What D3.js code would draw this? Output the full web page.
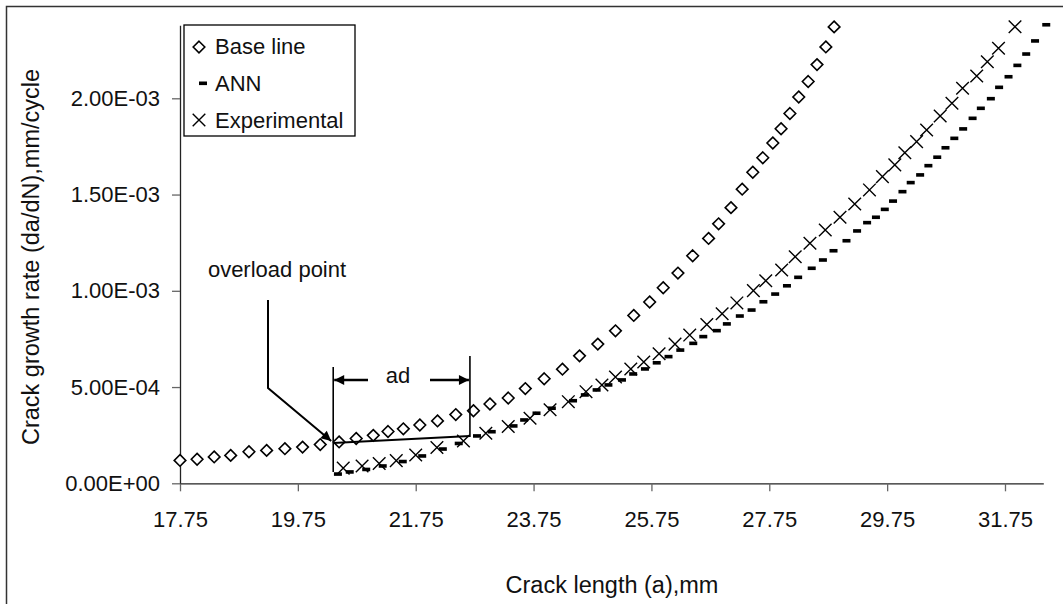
<!DOCTYPE html>
<html>
<head>
<meta charset="utf-8">
<script src="https://cdn.jsdelivr.net/npm/d3@7"></script>
<style>
  html, body { margin: 0; padding: 0; background: #fff; }
  svg { display: block; font-family: "Liberation Sans", Arial, sans-serif; }
</style>
</head>
<body>
<svg id="chart" width="1063" height="604"></svg>
<script>
// Crack length a (mm) and growth rate da/dN (mm/cycle) for each series
const baseA = [17.75, 18.04, 18.33, 18.61, 18.92, 19.22, 19.53, 19.83, 20.13,
  20.45, 20.74, 21.03, 21.28, 21.54, 21.82, 22.12, 22.43, 22.73, 23.01, 23.32,
  23.61, 23.93, 24.24, 24.53, 24.84, 25.14, 25.45, 25.72, 25.95, 26.20, 26.45,
  26.72, 26.89, 27.10, 27.29, 27.47, 27.64, 27.81, 27.95, 28.10, 28.25, 28.41,
  28.56, 28.71, 28.85];
const baseRate = [1.19e-4, 1.25e-4, 1.37e-4, 1.45e-4, 1.64e-4, 1.71e-4, 1.80e-4, 1.88e-4, 2.01e-4,
  2.15e-4, 2.33e-4, 2.49e-4, 2.69e-4, 2.83e-4, 3.03e-4, 3.24e-4, 3.57e-4, 3.77e-4, 4.12e-4, 4.43e-4,
  4.92e-4, 5.43e-4, 5.93e-4, 6.62e-4, 7.23e-4, 7.92e-4, 8.72e-4, 9.42e-4, 1.016e-3, 1.092e-3, 1.182e-3,
  1.272e-3, 1.348e-3, 1.432e-3, 1.528e-3, 1.616e-3, 1.691e-3, 1.768e-3, 1.842e-3, 1.921e-3, 2.007e-3, 2.087e-3,
  2.175e-3, 2.267e-3, 2.371e-3];

const annA = [20.43, 20.63, 20.91, 21.19, 21.53, 21.86, 22.21, 22.48, 22.79, 23.04,
  23.41, 23.59, 23.80, 24.06, 24.42, 24.62, 24.82, 25.02, 25.25, 25.44,
  25.64, 25.84, 26.04, 26.24, 26.46, 26.63, 26.86, 27.03, 27.25, 27.45,
  27.65, 27.85, 28.05, 28.24, 28.47, 28.66, 28.84, 29.06, 29.24, 29.41,
  29.56, 29.71, 29.85, 30.01, 30.15, 30.31, 30.45, 30.60, 30.74, 30.89,
  31.04, 31.20, 31.34, 31.51, 31.65, 31.81, 31.96, 32.11, 32.26, 32.45];
const annRate = [0.48e-4, 0.59e-4, 0.72e-4, 0.90e-4, 1.13e-4, 1.42e-4, 1.78e-4, 2.07e-4, 2.46e-4, 2.68e-4,
  2.98e-4, 3.29e-4, 3.64e-4, 3.90e-4, 4.29e-4, 4.59e-4, 4.85e-4, 5.11e-4, 5.37e-4, 5.68e-4,
  5.94e-4, 6.26e-4, 6.58e-4, 6.92e-4, 7.27e-4, 7.62e-4, 7.93e-4, 8.28e-4, 8.69e-4, 9.00e-4,
  9.43e-4, 9.83e-4, 1.026e-3, 1.070e-3, 1.117e-3, 1.160e-3, 1.208e-3, 1.260e-3, 1.311e-3, 1.354e-3,
  1.382e-3, 1.423e-3, 1.466e-3, 1.515e-3, 1.562e-3, 1.602e-3, 1.650e-3, 1.694e-3, 1.743e-3, 1.792e-3,
  1.841e-3, 1.896e-3, 1.948e-3, 1.998e-3, 2.057e-3, 2.112e-3, 2.171e-3, 2.230e-3, 2.298e-3, 2.382e-3];

const expA = [20.52, 20.84, 21.13, 21.42, 21.75, 22.11, 22.56, 22.94, 23.32, 23.69,
  24.03, 24.34, 24.64, 24.91, 25.14, 25.40, 25.62, 25.88, 26.15, 26.40,
  26.69, 26.95, 27.20, 27.48, 27.69, 27.96, 28.19, 28.44, 28.70, 28.95,
  29.20, 29.45, 29.67, 29.88, 30.05, 30.25, 30.42, 30.65, 30.85, 31.03,
  31.27, 31.45, 31.64, 31.92];
const expRate = [0.79e-4, 0.90e-4, 1.03e-4, 1.18e-4, 1.47e-4, 1.86e-4, 2.20e-4, 2.60e-4, 2.95e-4, 3.38e-4,
  3.82e-4, 4.24e-4, 4.76e-4, 5.11e-4, 5.52e-4, 5.94e-4, 6.30e-4, 6.73e-4, 7.23e-4, 7.70e-4,
  8.25e-4, 8.81e-4, 9.37e-4, 1.001e-3, 1.052e-3, 1.108e-3, 1.177e-3, 1.247e-3, 1.316e-3, 1.382e-3,
  1.451e-3, 1.524e-3, 1.593e-3, 1.654e-3, 1.717e-3, 1.775e-3, 1.835e-3, 1.908e-3, 1.974e-3, 2.052e-3,
  2.116e-3, 2.190e-3, 2.260e-3, 2.372e-3];

const xTicks = [17.75, 19.75, 21.75, 23.75, 25.75, 27.75, 29.75, 31.75];
const xTickLabels = ["17.75", "19.75", "21.75", "23.75", "25.75", "27.75", "29.75", "31.75"];
const yTicks = [0, 5e-4, 1e-3, 1.5e-3, 2e-3];
const yTickLabels = ["0.00E+00", "5.00E-04", "1.00E-03", "1.50E-03", "2.00E-03"];

const seriesNames = ["Base line", "ANN", "Experimental"];

// Annotation anchors in data units
const overloadA = 20.35;          // overload position (start of delay zone)
const delayEndA = 22.67;          // end of the delay distance ad

const svg = d3.select("#chart");
const FONT = 22;
const TITLE_FONT = 23.5;

const x = d3.scaleLinear().domain([17.75, 32.4]).range([180, 1043.3]);
const y = d3.scaleLinear().domain([0, 2.38e-3]).range([483.3, 25.15]);

// Outer chart frame
svg.append("rect")
  .attr("x", 6.5).attr("y", 6.5).attr("width", 1200).attr("height", 800)
  .attr("fill", "none").attr("stroke", "#333").attr("stroke-width", 1.5);

// Axes
const xAxis = d3.axisBottom(x).tickValues(xTicks)
  .tickFormat((d, i) => xTickLabels[i]).tickSize(8).tickSizeOuter(0).tickPadding(20);
const yAxis = d3.axisLeft(y).tickValues(yTicks)
  .tickFormat((d, i) => yTickLabels[i]).tickSize(8).tickSizeOuter(0).tickPadding(12);

const gx = svg.append("g").attr("transform", `translate(0,${y(0)})`).call(xAxis);
const gy = svg.append("g").attr("transform", `translate(${x(17.75)},0)`).call(yAxis);
[gx, gy].forEach(g => {
  g.select(".domain").attr("stroke", "#222").attr("stroke-width", 1.3);
  g.selectAll(".tick line").attr("stroke", "#666").attr("stroke-width", 1.3);
  g.selectAll(".tick text").attr("font-size", FONT).attr("fill", "#111")
    .attr("font-family", "Liberation Sans, Arial, sans-serif");
});

// Axis titles
svg.append("text")
  .attr("x", 612).attr("y", 593).attr("text-anchor", "middle")
  .attr("font-size", TITLE_FONT).attr("fill", "#111")
  .text("Crack length (a),mm");
svg.append("text")
  .attr("transform", "translate(39,257) rotate(-90)")
  .attr("text-anchor", "middle").attr("font-size", TITLE_FONT).attr("fill", "#111")
  .text("Crack growth rate (da/dN),mm/cycle");

// Marker shapes
const diamondPath = r => `M0,${-r}L${r},0L0,${r}L${-r},0Z`;
const crossPath = r => `M${-r},${-r}L${r},${r}M${-r},${r}L${r},${-r}`;

const plot = svg.append("g");

plot.selectAll("path.base").data(d3.zip(baseA, baseRate)).join("path")
  .attr("class", "base")
  .attr("transform", d => `translate(${x(d[0])},${y(d[1])})`)
  .attr("d", diamondPath(5.8)).attr("fill", "#fff")
  .attr("stroke", "#000").attr("stroke-width", 1.6);

plot.selectAll("rect.ann").data(d3.zip(annA, annRate)).join("rect")
  .attr("class", "ann")
  .attr("x", d => x(d[0]) - 4).attr("y", d => y(d[1]) - 1.8)
  .attr("width", 8).attr("height", 3.6).attr("fill", "#000");

plot.selectAll("path.exp").data(d3.zip(expA, expRate)).join("path")
  .attr("class", "exp")
  .attr("transform", d => `translate(${x(d[0])},${y(d[1])})`)
  .attr("d", crossPath(6.3)).attr("fill", "none")
  .attr("stroke", "#000").attr("stroke-width", 1.4);

// Arrowhead marker
const defs = svg.append("defs");
defs.append("marker").attr("id", "head")
  .attr("viewBox", "0 0 10 10").attr("refX", 10).attr("refY", 5)
  .attr("markerWidth", 12).attr("markerHeight", 10)
  .attr("markerUnits", "userSpaceOnUse").attr("orient", "auto")
  .append("path").attr("d", "M0,0L10,5L0,10Z").attr("fill", "#000");

const ann = svg.append("g").attr("stroke", "#000").attr("fill", "none");
const xo = x(overloadA), xe = x(delayEndA);
const yOver = y(baseRate[9]);

// Overload pointer
ann.append("path")
  .attr("d", `M268,300L268,388L${xo - 2},${yOver - 1}`)
  .attr("stroke-width", 2).attr("marker-end", "url(#head)");
svg.append("text").attr("x", 277).attr("y", 277).attr("text-anchor", "middle")
  .attr("font-size", FONT).attr("fill", "#111").text("overload point");

// Delay distance bounds
ann.append("line").attr("x1", xo).attr("x2", xo).attr("y1", 367).attr("y2", 472).attr("stroke-width", 1.6);
ann.append("line").attr("x1", xe).attr("x2", xe).attr("y1", 356).attr("y2", 437).attr("stroke-width", 1.6);
ann.append("line").attr("x1", xo).attr("y1", 443).attr("x2", xe).attr("y2", 436).attr("stroke-width", 2);
ann.append("line").attr("x1", 368).attr("y1", 380).attr("x2", xo + 1).attr("y2", 380)
  .attr("stroke-width", 2.6).attr("marker-end", "url(#head)");
ann.append("line").attr("x1", 430).attr("y1", 380).attr("x2", xe - 1).attr("y2", 380)
  .attr("stroke-width", 2.6).attr("marker-end", "url(#head)");
svg.append("text").attr("x", 398).attr("y", 383).attr("text-anchor", "middle")
  .attr("font-size", FONT).attr("fill", "#111").text("ad");

// Legend
const lg = svg.append("g");
lg.append("rect").attr("x", 184).attr("y", 25).attr("width", 171).attr("height", 111)
  .attr("fill", "#fff").attr("stroke", "#000").attr("stroke-width", 1.3);
const rowY = [54, 91, 128];
seriesNames.forEach((name, i) => {
  lg.append("text").attr("x", 215).attr("y", rowY[i]).attr("font-size", FONT)
    .attr("fill", "#111").text(name);
});
lg.append("path").attr("transform", "translate(199,47)").attr("d", diamondPath(5.8))
  .attr("fill", "#fff").attr("stroke", "#000").attr("stroke-width", 1.6);
lg.append("rect").attr("x", 199).attr("y", 81.5).attr("width", 8).attr("height", 3.6).attr("fill", "#000");
lg.append("path").attr("transform", "translate(199,120)").attr("d", crossPath(6.3))
  .attr("fill", "none").attr("stroke", "#000").attr("stroke-width", 1.4);
</script>
</body>
</html>
